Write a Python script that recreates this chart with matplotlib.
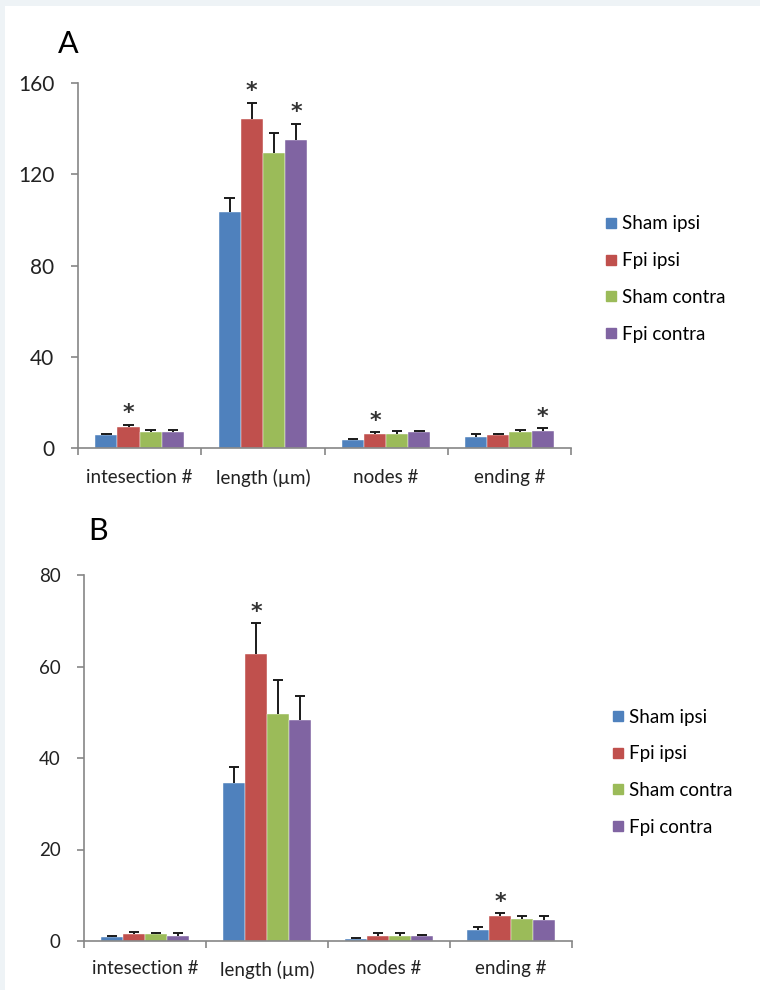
import matplotlib
matplotlib.use("Agg")
import matplotlib.pyplot as plt
from matplotlib.patches import Rectangle
from matplotlib.lines import Line2D
import numpy as np

plt.rcParams['font.family'] = ['Lato', 'DejaVu Sans']

categories = ["intesection #", "length (\u00b5m)", "nodes #", "ending #"]
series = ["Sham ipsi", "Fpi ipsi", "Sham contra", "Fpi contra"]
colors = ["#4F81BD", "#C0504D", "#9BBB59", "#8064A2"]

# Panel A values (rows: series, cols: categories)
a_sham_ipsi = [5.5, 103.5, 3.6, 5.0]
a_fpi_ipsi = [9.0, 144.2, 6.3, 5.5]
a_sham_contra = [7.0, 129.3, 6.3, 7.0]
a_fpi_contra = [7.0, 134.8, 7.0, 7.6]
a_err_sham_ipsi = [0.8, 6.3, 0.5, 1.1]
a_err_fpi_ipsi = [1.2, 7.2, 0.5, 0.6]
a_err_sham_contra = [1.0, 8.7, 1.0, 1.0]
a_err_fpi_contra = [1.0, 7.3, 0.5, 1.0]
a_stars = [(0, 1), (1, 1), (1, 3), (2, 1), (3, 3)]

# Panel B values
b_sham_ipsi = [0.8, 34.6, 0.4, 2.4]
b_fpi_ipsi = [1.5, 62.7, 1.1, 5.5]
b_sham_contra = [1.5, 49.6, 1.1, 4.8]
b_fpi_contra = [1.1, 48.3, 1.1, 4.5]
b_err_sham_ipsi = [0.3, 3.5, 0.2, 0.7]
b_err_fpi_ipsi = [0.5, 6.7, 0.6, 0.6]
b_err_sham_contra = [0.3, 7.4, 0.6, 0.6]
b_err_fpi_contra = [0.6, 5.3, 0.3, 0.9]
b_stars = [(1, 1), (3, 1)]

a_ticks = [0, 40, 80, 120, 160]
b_ticks = [0, 20, 40, 60, 80]

fig = plt.figure(figsize=(7.6, 9.9), dpi=100)
fig.patch.set_facecolor("#EEF3F6")
fig.add_artist(Rectangle((5/760, 0), 1, 1 - 6/990, transform=fig.transFigure,
                         facecolor="white", edgecolor="none", zorder=-10))

def panel(rect, vals, errs, stars, ticks, tick_fs, xpad, label, label_xy, legend_xy):
    ax = fig.add_axes(rect)
    ax.set_facecolor("none")
    n = len(categories)
    bw = 0.18
    cap = 0.085
    x = np.arange(n) + 0.5
    for i, (v, e) in enumerate(zip(vals, errs)):
        xs = x + (i - 1.5) * bw
        v = np.asarray(v)
        e = np.asarray(e)
        ax.bar(xs, v, width=bw, color=colors[i], edgecolor="white", linewidth=0.3, zorder=2)
        ax.vlines(xs, v, v + e, color="#1a1a1a", linewidth=1.4, zorder=3)
        ax.hlines(v + e, xs - cap / 2, xs + cap / 2, color="#1a1a1a", linewidth=1.4, zorder=3)
    for (ci, si) in stars:
        xs = x[ci] + (si - 1.5) * bw
        top = vals[si][ci] + errs[si][ci]
        ax.annotate("*", (xs, top), xytext=(0, 1), textcoords="offset points",
                    ha="center", va="bottom", fontsize=16, fontweight="bold",
                    color="#333333", family="DejaVu Sans")
    ax.set_xlim(0, n)
    ax.set_ylim(ticks[0], ticks[-1])
    ax.set_yticks(ticks)
    ax.set_yticklabels([str(t) for t in ticks], fontsize=tick_fs, color="#222222")
    ax.set_xticks(np.arange(n + 1))
    ax.set_xticklabels([""] * (n + 1))
    ax.set_xticks(x, minor=True)
    ax.set_xticklabels(categories, minor=True, fontsize=13.5, color="#222222")
    ax.tick_params(axis="x", which="major", length=5, color="#868686", width=1.2, direction="out")
    ax.tick_params(axis="x", which="minor", length=0, pad=xpad)
    ax.tick_params(axis="y", length=5, color="#868686", width=1.2, direction="out", pad=12)
    for s in ["top", "right"]:
        ax.spines[s].set_visible(False)
    for s in ["left", "bottom"]:
        ax.spines[s].set_color("#868686")
        ax.spines[s].set_linewidth(1.2)
    fig.text(label_xy[0], label_xy[1], label, fontsize=22, ha="left", va="center", color="black")
    handles = [Line2D([], [], marker="s", linestyle="none", markersize=7,
                      markerfacecolor=c, markeredgecolor=c) for c in colors]
    fig.legend(handles, series, loc="upper left", bbox_to_anchor=legend_xy,
               frameon=False, fontsize=13.5, handlelength=0.6, handletextpad=0.3,
               labelspacing=1.05, borderaxespad=0)
    return ax

A_vals = [a_sham_ipsi, a_fpi_ipsi, a_sham_contra, a_fpi_contra]
A_errs = [a_err_sham_ipsi, a_err_fpi_ipsi, a_err_sham_contra, a_err_fpi_contra]
B_vals = [b_sham_ipsi, b_fpi_ipsi, b_sham_contra, b_fpi_contra]
B_errs = [b_err_sham_ipsi, b_err_fpi_ipsi, b_err_sham_contra, b_err_fpi_contra]

panel([78/760, 1 - 448/990, 493/760, 365/990], A_vals, A_errs, a_stars, a_ticks, 15, 15,
      "A", (58/760, 1 - 44/990), (598/760, 1 - 208/990))
panel([84/760, 1 - 941/990, 488/760, 366/990], B_vals, B_errs, b_stars, b_ticks, 13.5, 14,
      "B", (88/760, 1 - 531/990), (605/760, 1 - 701/990))

fig.savefig("out.png", dpi=100, facecolor=fig.get_facecolor())
